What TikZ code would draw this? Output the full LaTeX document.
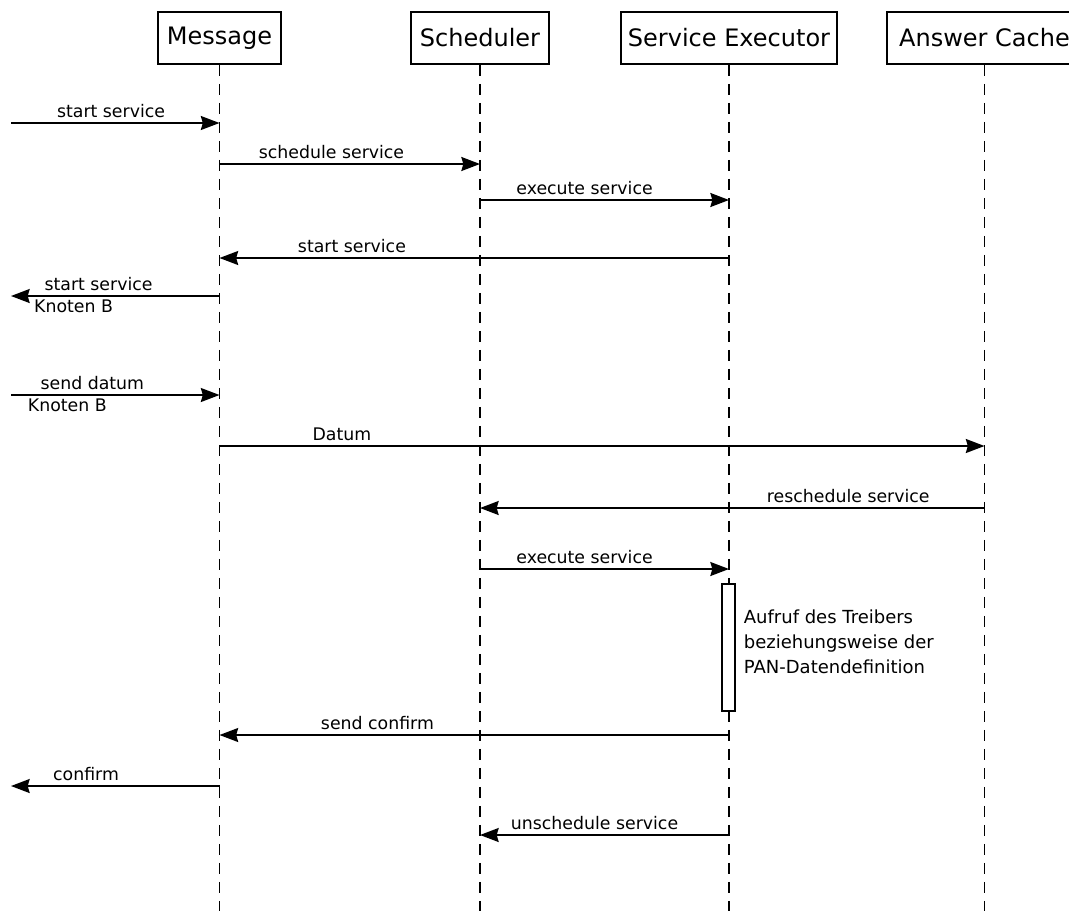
\documentclass[tikz,border=0pt]{standalone}
\usepackage{fontspec}
\setmainfont{DejaVu Sans}
\usetikzlibrary{arrows.meta, fit, calc}

\begin{document}
\begin{tikzpicture}[x=0.75pt, y=-0.75pt, >={Stealth[length=14pt, width=10.5pt, inset=1.5pt]},
		line width=1.3pt,
		hdr/.style={draw, inner sep=0pt},
		every label/.style={font=\fontsize{18}{21}\selectfont},
		lifeline/.style={dash pattern=on 8.25pt off 6pt},
		lbl/.style={anchor=base, yshift=4.5pt, inner sep=0pt},
		sub/.style={anchor=base, yshift=-12pt, inner sep=0pt}]
		\fontsize{13}{15}\selectfont

		\useasboundingbox (0,0) rectangle (1069,911);
		\clip (0,0) rectangle (1069,911);

		% Heads
		\node[hdr, fit={(158,12) (281,64)}, label=center:{Message}] (msg) {};
		\node[hdr, fit={(411,12) (549,64)}, label=center:{Scheduler}] (sch) {};
		\node[hdr, fit={(621,12) (837,64)}, label=center:{Service Executor}] (exe) {};
		\node[hdr, fit={(887,12) (1082,64)}, label=center:{Answer Cache}] (ans) {};

		% Lifelines
		\foreach \l in {msg,sch,exe,ans}
			\draw[lifeline] (\l) -- (\l |- 0,911);

		% Activation
		\node[draw, fit={(722,584) (735,711)},
			inner sep=0pt,
			fill=white
			] (act) {};
		\node[anchor=base west, align=left, inner sep=0pt,
			font=\fontsize{13.5}{18.4}\selectfont] (note) at (743,673)
			{Aufruf des Treibers\\beziehungsweise der\\PAN-Datendefinition};

		% Message points
		\foreach \y in {123,164,200,258,296,395,446,508,569,735,786,835} {
			\foreach \l in {msg,sch,exe,ans}
				\coordinate (\l-\y) at (\l |- 0,\y);
			\coordinate (ext-\y) at (11,\y);
		}

		% Messages
		\draw (ext-123) edge[->] node[lbl, pos=.48] {start service} (msg-123);
		\draw (msg-164) edge[->] node[lbl, pos=.43] {schedule service} (sch-164);
		\draw (sch-200) edge[->] node[lbl, pos=.42] {execute service} (exe-200);
		\draw (exe-258) edge[->] node[lbl, pos=.74] {start service} (msg-258);
		\draw (msg-296) edge[->] node[lbl, pos=.58] {start service}
			node[sub, pos=.70] {Knoten B} (ext-296);
		\draw (ext-395) edge[->] node[lbl, pos=.39] {send datum}
			node[sub, pos=.27] {Knoten B} (msg-395);
		\draw (msg-446) edge[->] node[lbl, pos=.16] {Datum} (ans-446);
		\draw (ans-508) edge[->] node[lbl, pos=.27] {reschedule service} (sch-508);
		\draw (sch-569) edge[->] node[lbl, pos=.42] {execute service} (exe-569);
		\draw (exe-735) edge[->] node[lbl, pos=.69] {send confirm} (msg-735);
		\draw (msg-786) edge[->] node[lbl, pos=.64] {confirm} (ext-786);
		\draw (exe-835) edge[->] node[lbl, pos=.54] {unschedule service} (sch-835);
	\end{tikzpicture}
\end{document}
